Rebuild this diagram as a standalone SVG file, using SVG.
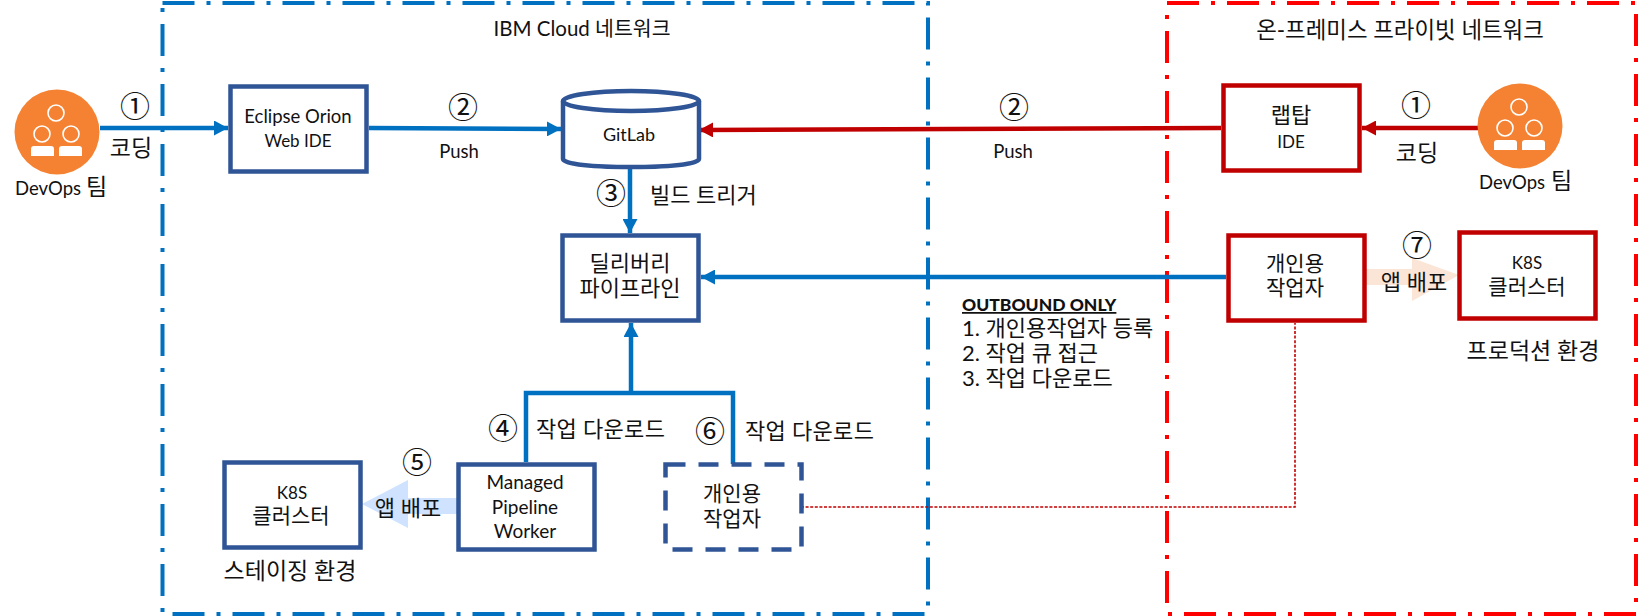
<svg xmlns="http://www.w3.org/2000/svg" width="1638" height="616" viewBox="0 0 1638 616">
<style>
text{font-family:"Lato","Noto Sans CJK KR",sans-serif;font-size:18.500px;fill:#111;text-anchor:middle}
.k{font-size:21px}
.w{font-size:22px}
.c{font-size:23px}
.s{font-size:17px}
.m{font-size:19px}
.l{text-anchor:start}
.n{font-size:30px;font-family:"Noto Sans CJK KR","DejaVu Sans",sans-serif}
.box{fill:#fff;stroke:#2F5597;stroke-width:4.5}
.rbox{fill:#fff;stroke:#C00000;stroke-width:4.5}
.frame{fill:none;stroke-width:4;stroke-dasharray:32 12 4 12}
.b{fill:none;stroke:#0070C0;stroke-width:4.5}
.r{fill:none;stroke:#C00000;stroke-width:4.5}
.ring{fill:none;stroke:#fff;stroke-width:1.6}
</style>
<defs>
<marker id="ab" markerUnits="userSpaceOnUse" markerWidth="14" markerHeight="15" refX="14" refY="7.500" orient="auto"><path d="M0 0L14 7.500L0 15Z" fill="#0070C0"/></marker>
<marker id="ar" markerUnits="userSpaceOnUse" markerWidth="14" markerHeight="15" refX="14" refY="7.500" orient="auto"><path d="M0 0L14 7.500L0 15Z" fill="#C00000"/></marker>
<g id="team"><circle cx="0" cy="0" r="42.5" fill="#F58232"/><circle class="ring" cx="-1" cy="-19" r="8"/><circle class="ring" cx="-15" cy="2" r="8"/><circle class="ring" cx="14" cy="2" r="8"/><path d="M-26 24V17q0-3 3-3H-6q3 0 3 3V24ZM2 24V17q0-3 3-3H22q3 0 3 3V24Z" fill="#fff"/></g>
</defs>
<g id="frames">
<rect class="frame" x="162.500" y="3" width="765.500" height="611" stroke="#0070C0"/>
<rect class="frame" x="1167" y="3" width="469" height="611" stroke="#FF0000"/>
</g>
<g id="connectors">
<path class="b" marker-end="url(#ab)" d="M100 128H228"/>
<path class="b" marker-end="url(#ab)" d="M369 128L561 129"/>
<path class="r" marker-end="url(#ar)" d="M1221 128L699 130"/>
<path class="r" marker-end="url(#ar)" d="M1478 128H1362"/>
<path class="b" marker-end="url(#ab)" d="M630 168V233"/>
<path class="b" marker-end="url(#ab)" d="M1226 277H701"/>
<path class="b" marker-end="url(#ab)" d="M631 393V323"/>
<path class="b" d="M526 462V393H733V464"/>
<path d="M801 507H1295V323" fill="none" stroke="#C00000" stroke-width="1.6" stroke-dasharray="3 1.600"/>
<path d="M1364 269H1412V258L1459 275L1412 301V285H1364Z" fill="#FBE5D6"/>
<path d="M458 498H408V480L362 504L408 528V514H458Z" fill="#CFE2FF"/>
</g>
<g id="team-left"><use href="#team" x="57" y="132"/><text x="15" y="195" class="l">DevOps</text><text x="86" y="195" class="l c" >팀</text></g>
<g id="team-right"><use href="#team" x="1520" y="126"/><text x="1479" y="189" class="l">DevOps</text><text x="1551" y="189" class="l c">팀</text></g>
<g id="eclipse"><rect class="box" x="230.500" y="86.500" width="136" height="85"/><text x="298" y="123">Eclipse Orion</text><text x="298" y="147" style="font-size:17px">Web IDE</text></g>
<g id="gitlab"><path class="box" d="M563 101V159C563 164 593 167 631 167S699 164 699 159V101"/><ellipse class="box" cx="631" cy="101" rx="68" ry="10"/><text class="m" x="629" y="141" style="font-size:18px">GitLab</text></g>
<g id="pipeline"><rect class="box" x="562.500" y="235.500" width="136" height="85"/><text class="w" x="630" y="271">딜리버리</text><text class="w" x="630" y="296">파이프라인</text></g>
<g id="laptop"><rect class="rbox" x="1223.500" y="85.500" width="136" height="85"/><text class="w" x="1291" y="123">랩탑</text><text class="s" x="1291" y="148">IDE</text></g>
<g id="private-worker"><rect class="rbox" x="1228.500" y="235.500" width="136" height="85"/><text class="k" x="1295" y="271">개인용</text><text class="k" x="1295" y="295">작업자</text></g>
<g id="k8s-prod"><rect class="rbox" x="1459.500" y="232.500" width="136" height="86"/><text class="s" x="1527" y="269">K8S</text><text class="k" x="1527" y="294">클러스터</text></g>
<g id="k8s-stage"><rect class="box" x="224.500" y="462.500" width="136" height="85"/><text class="s" x="292" y="499">K8S</text><text class="k" x="291" y="523">클러스터</text></g>
<g id="managed"><rect class="box" x="458.500" y="464.500" width="136" height="85"/><text class="m" x="525" y="489">Managed</text><text class="m" x="525" y="514">Pipeline</text><text class="m" x="525" y="538">Worker</text></g>
<g id="worker-dashed"><rect class="box" x="665.500" y="464.500" width="136" height="85" stroke-dasharray="20 13"/><text class="k" x="732" y="501">개인용</text><text class="k" x="732" y="526">작업자</text></g>
<g id="labels">
<text x="582" y="36" style="font-size:20.500px">IBM Cloud 네트워크</text>
<text x="1400" y="38" style="font-size:22.400px">온-프레미스 프라이빗 네트워크</text>
<text class="n" x="135" y="117">①</text><text class="c" x="131" y="156">코딩</text>
<text class="n" x="463" y="118">②</text><text x="459" y="158">Push</text>
<text class="n" x="611" y="204">③</text><text class="l w" x="650" y="203">빌드 트리거</text>
<text class="n" x="1014" y="118">②</text><text x="1013" y="158">Push</text>
<text class="n" x="1416" y="116">①</text><text class="c" x="1417" y="161">코딩</text>
<text class="n" x="1417" y="256">⑦</text><text class="w" x="1414" y="290">앱 배포</text>
<text class="n" x="503" y="439">④</text><text class="l w" x="536" y="437" style="letter-spacing:.3px">작업 다운로드</text>
<text class="n" x="417" y="473">⑤</text><text class="w" x="408" y="516">앱 배포</text>
<text class="n" x="710" y="442">⑥</text><text class="l w" x="745" y="439" style="letter-spacing:.3px">작업 다운로드</text>
<text class="c" x="290" y="579">스테이징 환경</text>
<text class="c" x="1533" y="359">프로덕션 환경</text>
<text class="l" x="962" y="311" style="font-weight:900;text-decoration:underline;font-size:17.500px">OUTBOUND ONLY</text>
<text class="l w" x="962" y="336">1. 개인용작업자 등록</text>
<text class="l w" x="962" y="361">2. 작업 큐 접근</text>
<text class="l w" x="962" y="386">3. 작업 다운로드</text>
</g>
</svg>
